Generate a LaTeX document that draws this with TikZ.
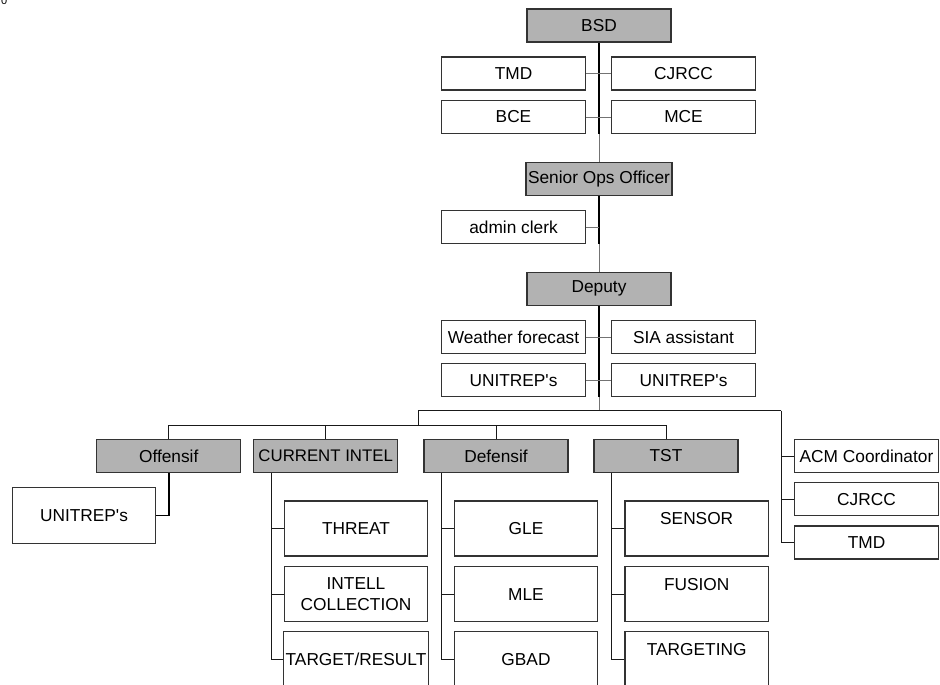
\documentclass[tikz,border=0pt]{standalone}
\usepackage{fontspec}
\setmainfont{Liberation Sans}
\definecolor{boxgray}{RGB}{178,178,178}
\begin{document}
\begin{tikzpicture}[
        x=1pt, y=-1pt,
        every node/.style={font=\fontsize{17.3}{21.5}\selectfont, inner sep=2pt},
        box/.style={draw=black!80, line width=1.1pt, minimum width=143.5pt, minimum height=33pt},
        grayn/.style={box, fill=boxgray, minimum width=144pt},
        tallb/.style={box, minimum height=55pt, align=center},
        uptext/.style={text depth=20pt},
        line/.style={draw=black!90, line width=1pt},
        stem/.style={draw=black, line width=1.8pt},
        link/.style={draw=black!55, line width=1pt},
    ]
    \useasboundingbox (0,0) rectangle (940,685);
    \clip (0,0) rectangle (940,685);
    \node[anchor=base, inner sep=0, font=\fontsize{11}{13}\selectfont] (pg) at (4.2,5) {0};

    \node[grayn](bsd) at (599,25.5) {BSD};
    \node[box](tmd) at (513.5,73.5) {TMD};
    \node[box](cjrcc) at (683.5,73.5) {CJRCC};
    \node[box](bce) at (513.5,117) {BCE};
    \node[box](mce) at (683.5,117) {MCE};
    \node[grayn](senior) at (599,178.7) {Senior Ops Officer};
    \node[box](admin) at (513.5,227.3) {admin clerk};
    \node[grayn](deputy) at (599,288.7) {Deputy};
    \node[box](weather) at (513.5,337) {Weather forecast};
    \node[box](sia) at (683.5,337) {SIA assistant};
    \node[box](unil) at (513.5,380.3) {UNITREP\textquotesingle s};
    \node[box](unir) at (683.5,380.3) {UNITREP\textquotesingle s};

    \node[grayn](offensif) at (168.7,456) {Offensif};
    \node[grayn, font=\fontsize{16.8}{20}\selectfont](intel) at (325.7,456) {CURRENT INTEL};
    \node[grayn](defensif) at (496,456) {Defensif};
    \node[grayn](tst) at (666,456) {TST};

    \node[tallb, minimum height=55.6pt](uniof) at (84,515.5) {UNITREP\textquotesingle s};
    \node[tallb](threat) at (356,528.5) {THREAT};
    \node[tallb](intell) at (356,594.2) {INTELL\\COLLECTION};
    \node[tallb](target) at (356,659.2) {TARGET/RESULT};
    \node[tallb](gle) at (526,528.5) {GLE};
    \node[tallb](mle) at (526,594.2) {MLE};
    \node[tallb](gbad) at (526,659.2) {GBAD};
    \node[tallb, uptext](sensor) at (696.7,528.5) {SENSOR};
    \node[tallb, uptext](fusion) at (696.7,594.2) {FUSION};
    \node[tallb, uptext](targeting) at (696.7,659.2) {TARGETING};

    \node[box](acm) at (866.5,456) {ACM Coordinator};
    \node[box](cjrcc2) at (866.5,499.2) {CJRCC};
    \node[box](tmd2) at (866.5,542.5) {TMD};

    \coordinate (busl) at (418,410.7);
    \coordinate (busr) at (781,410.7);
    \coordinate (bus2) at (418,425);
    \coordinate (ci) at ([xshift=18pt]intel.south west);
    \coordinate (cd) at ([xshift=18pt]defensif.south west);
    \coordinate (ct) at ([xshift=18pt]tst.south west);

    \draw[link] (bsd) -- (senior);
    \draw[stem] (bsd.south) -- (bsd.south |- bce.south);
    \draw[link] (tmd) -- (cjrcc);
    \draw[link] (bce) -- (mce);
    \draw[link] (senior) -- (deputy);
    \draw[stem] (senior.south) -- (senior.south |- admin.south);
    \draw[link] (admin.east) -- (admin.east -| senior.south);
    \draw[link] (deputy.south) -- (deputy.south |- busl);
    \draw[stem] (deputy.south) -- (deputy.south |- unil.south);
    \draw[link] (weather) -- (sia);
    \draw[link] (unil) -- (unir);

    \draw[line] (busr) -- (busl) -- (bus2);
    \draw[line] (offensif.north) |- (bus2 -| tst.north) -- (tst.north);
    \draw[line] (intel.north) -- (intel.north |- bus2);
    \draw[line] (defensif.north) -- (defensif.north |- bus2);
    \draw[stem] (offensif.south) |- (uniof.east);

    \draw[line] (ci) |- (target.west);
    \draw[line] (threat.west) -- (threat.west -| ci);
    \draw[line] (intell.west) -- (intell.west -| ci);
    \draw[line] (cd) |- (gbad.west);
    \draw[line] (gle.west) -- (gle.west -| cd);
    \draw[line] (mle.west) -- (mle.west -| cd);
    \draw[line] (ct) |- (targeting.west);
    \draw[line] (sensor.west) -- (sensor.west -| ct);
    \draw[line] (fusion.west) -- (fusion.west -| ct);

    \draw[line] (busr) |- (tmd2.west);
    \draw[line] (acm.west) -- (acm.west -| busr);
    \draw[line] (cjrcc2.west) -- (cjrcc2.west -| busr);
\end{tikzpicture}
\end{document}
